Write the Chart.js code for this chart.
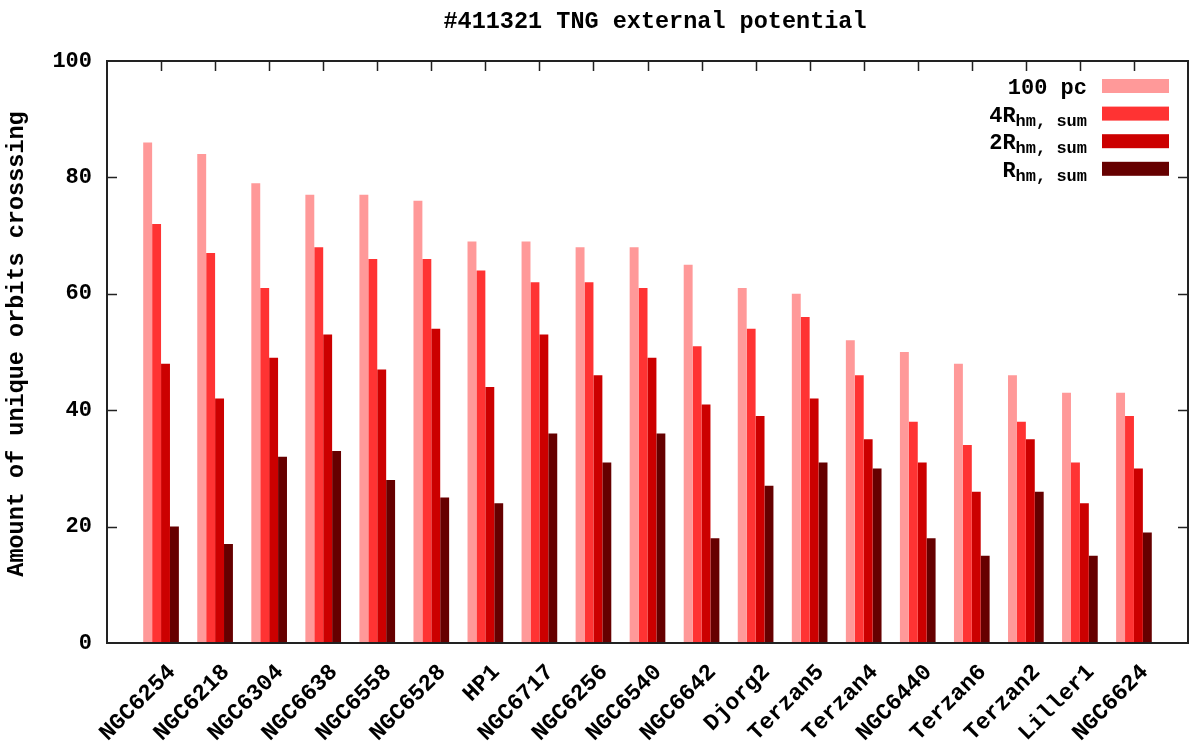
<!DOCTYPE html>
<html><head><meta charset="utf-8">
<script src="https://cdn.jsdelivr.net/npm/chart.js@4.4.0/dist/chart.umd.min.js"></script>
<style>html,body{margin:0;padding:0;background:#fff;}#wrap{width:1200px;height:756px;}</style>
</head><body><div id="wrap"><canvas id="c" width="1200" height="756"></canvas></div>
<script>
const categories = ['NGC6254','NGC6218','NGC6304','NGC6638','NGC6558','NGC6528','HP1','NGC6717','NGC6256','NGC6540','NGC6642','Djorg2','Terzan5','Terzan4','NGC6440','Terzan6','Terzan2','Liller1','NGC6624'];
const pc100 = [86,84,79,77,77,76,69,69,68,68,65,61,60,52,50,48,46,43,43];
const rhm4  = [72,67,61,68,66,66,64,62,62,61,51,54,56,46,38,34,38,31,39];
const rhm2  = [48,42,49,53,47,54,44,53,46,49,41,39,42,35,31,26,35,24,30];
const rhm1  = [20,17,32,33,28,25,24,36,31,36,18,27,31,30,18,15,26,15,19];
const yTicks = [0,20,40,60,80,100];
const seriesMain = ['100 pc','4R','2R','R'];
const seriesSub  = ['','hm, sum','hm, sum','hm, sum'];
const seriesColors = ['#ff9999','#ff3333','#cc0000','#660000'];
const titleText = '#411321 TNG external potential';
const yLabel = 'Amount of unique orbits crosssing';

const FONT = '"Liberation Mono", "DejaVu Sans Mono", monospace';
const labels = [''].concat(categories, ['']);
const pad = a => [null].concat(a, [null]);
const seriesData = [pc100, rhm4, rhm2, rhm1];
const datasets = seriesData.map((d, i) => ({
  label: seriesMain[i] + seriesSub[i],
  data: pad(d),
  backgroundColor: seriesColors[i],
  borderWidth: 0,
  categoryPercentage: 0.66,
  barPercentage: 1.0
}));

const framePlugin = {
  id: 'frame',
  afterDatasetsDraw(chart) {
    const ctx = chart.ctx, a = chart.chartArea;
    const xs = chart.scales.x, ys = chart.scales.y;
    ctx.save();
    ctx.strokeStyle = '#222';
    ctx.lineWidth = 1.5;
    ctx.beginPath();
    yTicks.forEach(v => {
      if (v === ys.min || v === ys.max) return;
      const y = Math.round(ys.getPixelForValue(v)) + 0.5;
      ctx.moveTo(a.left, y); ctx.lineTo(a.left + 10, y);
      ctx.moveTo(a.right, y); ctx.lineTo(a.right - 10, y);
    });
    categories.forEach((c, i) => {
      const x = Math.round(xs.getPixelForValue(i + 1)) + 0.5;
      ctx.moveTo(x, a.top); ctx.lineTo(x, a.top + 10);
    });
    ctx.stroke();
    ctx.lineWidth = 2;
    ctx.strokeRect(a.left, a.top, a.right - a.left, a.bottom - a.top);

    // title
    ctx.fillStyle = '#000';
    ctx.font = 'bold 23.5px ' + FONT;
    ctx.textAlign = 'center';
    ctx.textBaseline = 'alphabetic';
    ctx.fillText(titleText, 655, 28);

    // y axis label
    ctx.save();
    ctx.translate(17, (a.top + a.bottom) / 2 - 8);
    ctx.rotate(-Math.PI / 2);
    ctx.textAlign = 'center';
    ctx.textBaseline = 'middle';
    ctx.font = 'bold 23.5px ' + FONT;
    ctx.fillText(yLabel, 0, 0);
    ctx.restore();

    // legend
    const textRight = a.right - 101, swL = a.right - 86, swW = 67, swH = 14;
    seriesMain.forEach((m, i) => {
      const top = a.top + 18 + i * 27.6;
      ctx.fillStyle = seriesColors[i];
      ctx.fillRect(swL, top, swW, swH);
      ctx.fillStyle = '#000';
      ctx.textAlign = 'right';
      const base = top + 15;
      let right = textRight;
      if (seriesSub[i]) {
        ctx.font = 'bold 17px ' + FONT;
        ctx.fillText(seriesSub[i], right, base + 4);
        right -= ctx.measureText(seriesSub[i]).width;
      }
      ctx.font = 'bold 22px ' + FONT;
      ctx.fillText(m, right, base);
    });
    ctx.restore();
  }
};

new Chart(document.getElementById('c'), {
  type: 'bar',
  data: { labels, datasets },
  options: {
    responsive: false,
    devicePixelRatio: 1,
    animation: false,
    layout: { padding: { top: 61, right: 12, left: 0, bottom: 0 } },
    plugins: { legend: { display: false }, title: { display: false }, tooltip: { enabled: false } },
    scales: {
      x: {
        type: 'category',
        offset: false,
        grid: { display: false, drawTicks: false },
        border: { display: false },
        ticks: {
          autoSkip: false, maxRotation: 45, minRotation: 45,
          color: '#000', padding: 16, labelOffset: 11,
          font: { family: FONT, size: 23, weight: 'bold' }
        },
        afterFit(s) { s.height = 113; s.paddingLeft = 0; s.paddingRight = 0; }
      },
      y: {
        min: 0, max: 100,
        grid: { display: false, drawTicks: false },
        border: { display: false },
        ticks: {
          stepSize: 20, color: '#000', padding: 15,
          font: { family: FONT, size: 22, weight: 'bold' }
        },
        title: { display: false },
        afterFit(s) { s.width = 107; }
      }
    }
  },
  plugins: [framePlugin]
});
</script></body></html>
